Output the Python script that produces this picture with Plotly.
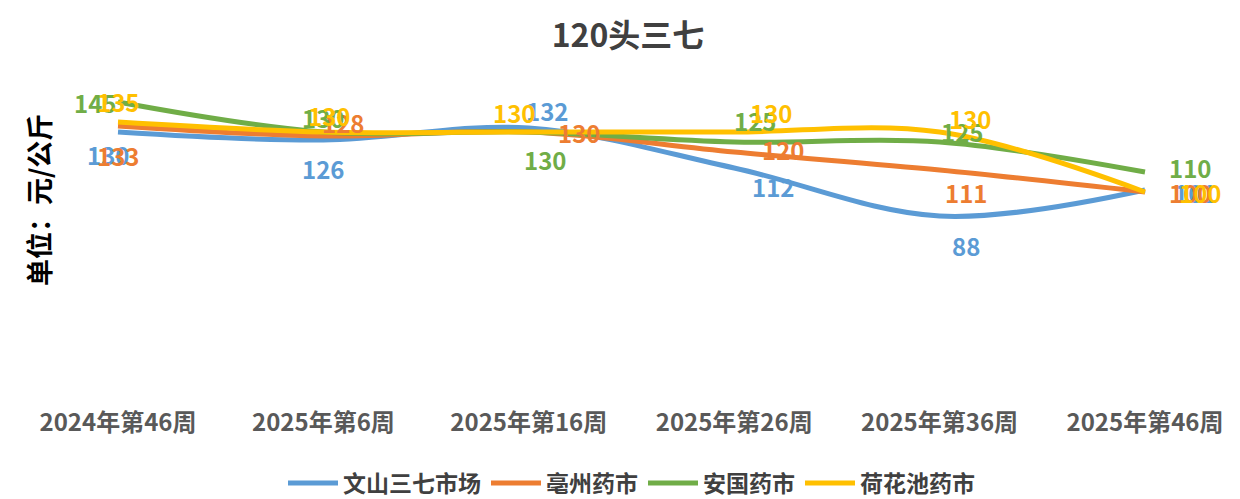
import plotly.graph_objs as go

# === DATA ===
weeks = ['2024年第46周', '2025年第6周', '2025年第16周', '2025年第26周', '2025年第36周', '2025年第46周']
wenshan = [130, 126, 132, 112, 88, 101]
bozhou = [133, 128, 130, 120, 111, 100]
anguo = [145, 130, 130, 125, 125, 110]
hehuachi = [135, 130, 130, 130, 130, 100]

FONT = "Noto Sans CJK SC"

# label offsets (px) per point, to mimic the Excel label placement
series = [
    ('文山三七市场', wenshan, '#5B9BD5',
     [(-10, -22), (0, -28), (18, 18), (39, -18), (26, -29), (50, -2)]),
    ('亳州药市', bozhou, '#ED7D31',
     [(0, -29), (20, 14), (50, 0), (49, 3), (26, -22), (45, 0)]),
    ('安国药市', anguo, '#70AD47',
     [(-23, 0), (0, 15), (16, -27), (21, 22), (22, 11), (45, 5)]),
    ('荷花池药市', hehuachi, '#FFC000',
     [(0, 21), (6, 17), (-15, 20), (37, 20), (30, 14), (55, 0)]),
]

fig = go.Figure()
annotations = []

for name, vals, color, offs in series:
    fig.add_trace(go.Scatter(
        x=weeks,
        y=vals,
        name=name,
        mode='lines',
        line=dict(color=color, width=5, shape='spline', smoothing=1),
    ))
    for wk, v, (dx, dy) in zip(weeks, vals, offs):
        annotations.append(dict(
            x=wk, y=v, text=f'<b>{v}</b>', showarrow=False,
            xshift=dx, yshift=dy,
            font=dict(family=FONT, size=24, color=color, weight='bold'),
        ))

annotations.append(dict(text='<b>单位：元/公斤</b>', xref='paper', yref='paper',
                        x=-0.038, y=0.6, xanchor='center', yanchor='middle',
                        textangle=-90, showarrow=False,
                        font=dict(family=FONT, size=27, color='black')))

fig.update_layout(
    width=1240, height=499,
    title=dict(text='<b>120头三七</b>', x=0.5, xanchor='center',
               yref='container', y=0.945, yanchor='middle',
               font=dict(family=FONT, size=32, color='#404040')),
    plot_bgcolor='white',
    paper_bgcolor='white',
    margin=dict(l=72, r=65, t=64, b=115, autoexpand=False),
    showlegend=True,
    legend=dict(orientation='h', x=0.5, xanchor='center',
                yref='container', y=0.048, yanchor='middle',
                font=dict(family=FONT, size=23, color='#404040', weight='bold'),
                itemwidth=50, traceorder='normal'),
    xaxis=dict(type='category', range=[-0.185, 5.185], showgrid=False, showline=False,
               zeroline=False, ticks='', ticklabelstandoff=14, automargin=False,
               tickfont=dict(family=FONT, size=24, color='#595959', weight='bold')),
    yaxis=dict(range=[0, 160], visible=False),
    annotations=annotations,
)

fig.write_html("out.html")
